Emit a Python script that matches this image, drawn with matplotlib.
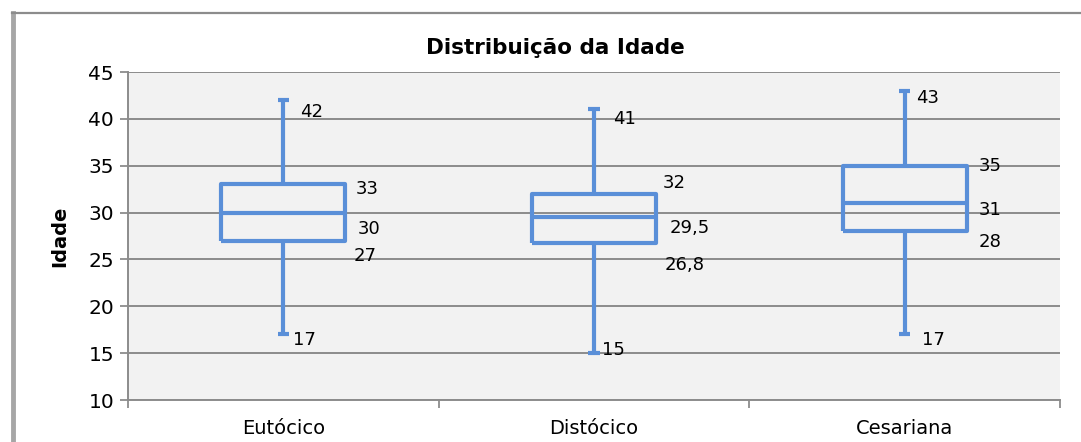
import matplotlib.pyplot as plt
from matplotlib.lines import Line2D

# Resumo da idade por tipo de parto
grupos = ['Eutócico', 'Distócico', 'Cesariana']
minimos = [17, 15, 17]
q1 = [27, 26.8, 28]
medianas = [30, 29.5, 31]
q3 = [33, 32, 35]
maximos = [42, 41, 43]

# deslocamento dos rótulos (px): min, q1, mediana, q3, max
desloc = [
    [(10, -6), (70, -15), (74, -16), (72, -5), (17, -12)],
    [(8, 3), (71, -22), (76, -11), (69, 11), (19, -10)],
    [(17, -6), (74, -11), (74, -7), (74, 0), (11, -7)],
]

azul = '#5A8FD8'
cinza = '#8C8C8C'
plt.rcParams['font.family'] = 'DejaVu Sans'

fig = plt.figure(figsize=(10.81, 4.42), dpi=100)
ax = fig.add_axes([128 / 1081, 1 - 400 / 442, (1060 - 128) / 1081, (400 - 72) / 442])
ax.set_facecolor('#F2F2F2')

stats = []
for i, g in enumerate(grupos):
    stats.append({'label': g, 'whislo': minimos[i], 'q1': q1[i], 'med': medianas[i],
                  'q3': q3[i], 'whishi': maximos[i]})

lp = dict(color=azul, linewidth=3.0, solid_capstyle='butt')
ax.bxp(stats, positions=range(len(grupos)), widths=0.4, capwidths=0.036,
       showfliers=False, boxprops=lp, whiskerprops=lp, capprops=lp, medianprops=lp,
       zorder=3)

def fmt(v):
    return ('%g' % v).replace('.', ',')

for i in range(len(grupos)):
    vals = [minimos[i], q1[i], medianas[i], q3[i], maximos[i]]
    for v, (dx, dy) in zip(vals, desloc[i]):
        ax.annotate(fmt(v), (i, v), xytext=(dx, dy), textcoords='offset pixels',
                    ha='left', va='center', fontsize=13, color='black', zorder=4)

ax.set_ylim(10, 45)
ax.set_xlim(-0.5, len(grupos) - 0.5)
ax.set_yticks(range(10, 46, 5))
ax.set_xticks(range(len(grupos)))
ax.set_xticklabels(grupos)
ax.set_xticks([-0.5, 0.5, 1.5, 2.5], minor=True)
ax.tick_params(axis='x', which='major', length=0, pad=14, labelsize=14)
ax.tick_params(axis='x', which='minor', length=6, width=1.3, color=cinza, direction='out')
ax.tick_params(axis='y', length=6, width=1.3, color=cinza, direction='out', pad=4,
               labelsize=14.5)
ax.yaxis.grid(True, color=cinza, linewidth=1.4, zorder=1)
ax.set_axisbelow(True)
for s in ['top', 'right']:
    ax.spines[s].set_visible(False)
for s in ['left', 'bottom']:
    ax.spines[s].set_color(cinza)
    ax.spines[s].set_linewidth(1.4)

ax.set_ylabel('Idade', fontsize=14, fontweight='bold', labelpad=14)
fig.text(555 / 1081, 1 - 48 / 442, 'Distribuição da Idade', ha='center', va='center',
         fontsize=15.5, fontweight='bold')

# moldura do gráfico
fig.add_artist(Line2D([13 / 1081, 13 / 1081], [0, 1 - 13 / 442], transform=fig.transFigure,
                      color='#A6A6A6', linewidth=3.5))
fig.add_artist(Line2D([12 / 1081, 1], [1 - 13 / 442, 1 - 13 / 442], transform=fig.transFigure,
                      color='#8C8C8C', linewidth=1.6))

fig.savefig('out.png', dpi=100)
